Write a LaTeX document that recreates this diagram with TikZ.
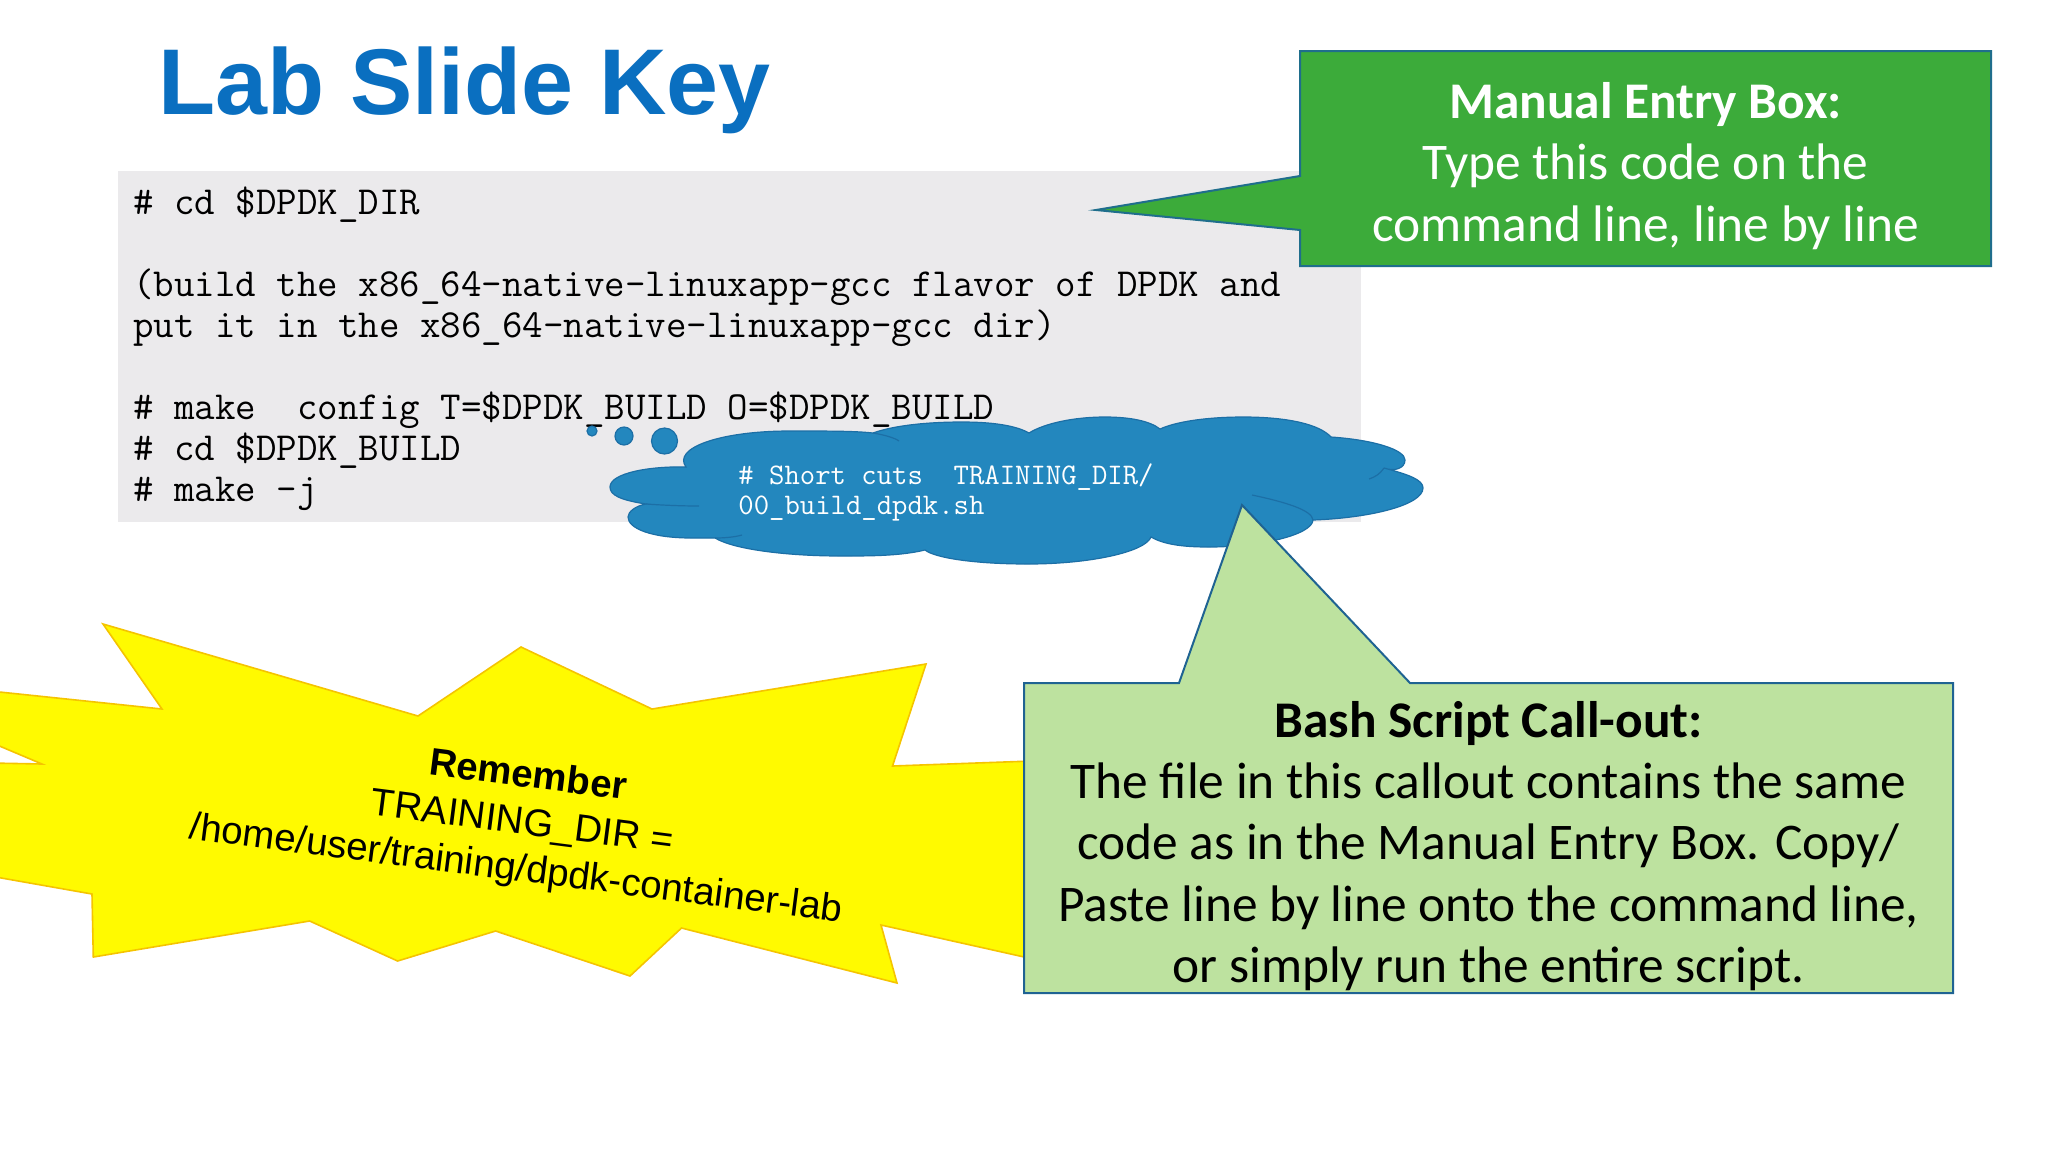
\documentclass[tikz,border=0pt]{standalone}
\usepackage{fontspec}
\setmainfont{Liberation Sans}
\newfontfamily\calibrifont{Carlito}
\usepackage{xcolor}
\definecolor{titleblue}{HTML}{0A6FC0}
\definecolor{codegray}{HTML}{EBEAEC}
\definecolor{cloudblue}{HTML}{2387BE}
\definecolor{cloudline}{HTML}{1C6FA6}
\definecolor{boxgreen}{HTML}{3CAB3A}
\definecolor{boxline}{HTML}{1F6E8C}
\definecolor{paleline}{HTML}{1F6392}
\definecolor{palegreen}{HTML}{BDE29F}
\definecolor{starline}{HTML}{F5C400}
\definecolor{staryellow}{HTML}{FFFA00}

\begin{document}
\begin{tikzpicture}[x=0.5pt,y=-0.5pt,
  code/.style={anchor=north west,inner sep=0pt,align=left,font=\ttfamily\fontsize{19.9}{20.5}\selectfont},
  callout/.style={align=center,inner sep=0pt,font=\calibrifont\fontsize{25.7}{30.7}\selectfont},
  bubble/.style={circle,fill=cloudblue,draw=cloudline,line width=0.6pt,inner sep=0pt}]
\useasboundingbox (0,0) rectangle (2048,1152);
\fill[white] (0,0) rectangle (2048,1152);

\node[anchor=base west,inner sep=0pt,text=titleblue,font=\bfseries\fontsize{46.7}{50}\selectfont] (title) at (158,114) {Lab Slide Key};

\fill[codegray] (118,171) rectangle (1361,522);
\node[code] (codeblock) at (133,186) {\#\ cd \$DPDK\_DIR\\
\mbox{}\\
(build the x86\_64-native-linuxapp-gcc flavor of DPDK and\\
put it in the x86\_64-native-linuxapp-gcc dir)\\
\mbox{}\\
\#\ make\ \ config T=\$DPDK\_BUILD O=\$DPDK\_BUILD\\
\#\ cd \$DPDK\_BUILD\\
\#\ make -j};

% thought cloud
\draw[fill=cloudblue,draw=cloudline,line width=0.6pt] (686,467)
  .. controls (672,448) and (720,431) .. (790,431) .. controls (830,431) and (855,431) .. (873,433)
  .. controls (895,425) and (930,422) .. (962,422) .. controls (990,422) and (1015,425) .. (1029,433)
  .. controls (1045,423) and (1075,417) .. (1105,417) .. controls (1130,417) and (1150,421) .. (1160,429)
  .. controls (1180,420) and (1215,417) .. (1243,417) .. controls (1290,417) and (1320,425) .. (1331,437)
  .. controls (1375,440) and (1405,450) .. (1405,460) .. controls (1405,468) and (1395,472) .. (1384,468)
  .. controls (1410,475) and (1423,480) .. (1423,488) .. controls (1423,505) and (1370,518) .. (1313,520)
  .. controls (1312,535) and (1260,547) .. (1209,547) .. controls (1185,547) and (1165,545) .. (1151,537)
  .. controls (1145,552) and (1090,564) .. (1028,564) .. controls (975,564) and (935,558) .. (925,550)
  .. controls (900,556) and (870,556) .. (841,556) .. controls (790,556) and (735,550) .. (715,538)
  .. controls (705,538) and (700,538) .. (692,538) .. controls (650,538) and (628,528) .. (628,517)
  .. controls (628,512) and (635,506) .. (646,504) .. controls (620,500) and (610,495) .. (610,487)
  .. controls (610,473) and (650,466) .. (686,467) -- cycle;
\draw[cloudline,line width=0.6pt] (873,433) .. controls (885,435) and (895,438) .. (899,441);
\draw[cloudline,line width=0.6pt] (1384,468) .. controls (1380,474) and (1375,477) .. (1369,479);
\draw[cloudline,line width=0.6pt] (1313,520) .. controls (1312,510) and (1285,502) .. (1252,495);
\draw[cloudline,line width=0.6pt] (715,538) .. controls (725,538) and (735,537) .. (742,535);
\draw[cloudline,line width=0.6pt] (646,504) .. controls (660,505) and (680,506) .. (699,506);
\node[bubble,minimum size=5pt] (bubble1) at (592,431) {};
\node[bubble,minimum size=9pt] (bubble2) at (624,436) {};
\node[bubble,minimum size=13pt] (bubble3) at (664.5,441) {};
\node[anchor=north west,inner sep=0pt,align=left,text=white,font=\ttfamily\fontsize{14.93}{15}\selectfont] (cloudtext) at (738,463) {\#\ Short cuts\ \ TRAINING\_DIR/\\00\_build\_dpdk.sh};

% burst
\draw[fill=staryellow,draw=starline,line width=0.8pt,line join=miter] (103,624) -- (418,716) -- (521,647) -- (652,709) -- (926,664)
  -- (892.5,766) -- (1060,760) -- (1060,965) -- (881,925) -- (897,983) -- (681.5,928) -- (630,976) -- (495.6,931)
  -- (397.6,961) -- (309.7,921) -- (93.3,957) -- (92,894) -- (-10,876) -- (-10,763) -- (42,764) -- (-10,742)
  -- (-10,691) -- (162,709) -- cycle;
\node[align=center,inner sep=0pt,rotate=-7.3,font=\fontsize{19.2}{23.5}\selectfont] (remember) at (522,824) {\textbf{Remember}\\TRAINING\_DIR =\\/home/user/training/dpdk-container-lab};

% callouts
\draw[fill=boxgreen,draw=boxline,line width=1pt] (1300,51) -- (1991,51) -- (1991,266) -- (1300,266) -- (1300,230) -- (1096,210) -- (1300,176) -- cycle;
\node[callout,text=white] (manualbox) at (1645.5,166) {\textbf{Manual Entry Box:}\\Type this code on the\\command line, line by line};

\draw[fill=palegreen,draw=paleline,line width=1pt] (1024,683) -- (1179,683) -- (1242,505) -- (1410,683) -- (1953,683) -- (1953,993) -- (1024,993) -- cycle;
\node[callout] (bashbox) at (1488.5,846) {\textbf{Bash Script Call-out:}\\The file in this callout contains the same\\code as in the Manual Entry Box. Copy/\\Paste line by line onto the command line,\\or simply run the entire script.};
\end{tikzpicture}
\end{document}
